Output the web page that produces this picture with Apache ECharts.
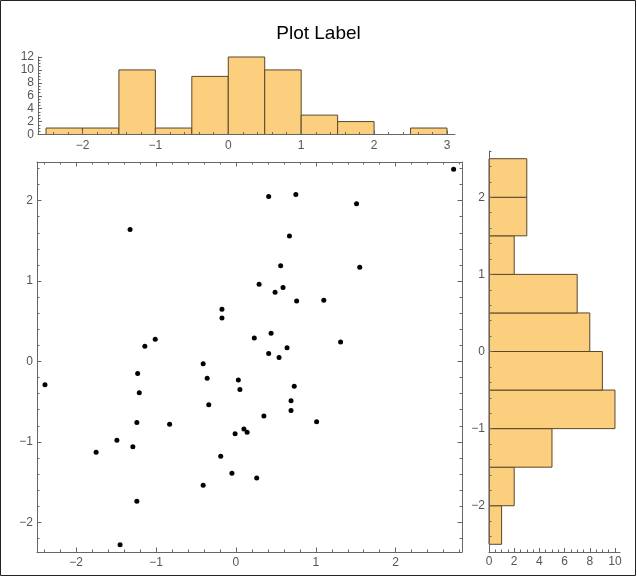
<!DOCTYPE html>
<html><head><meta charset="utf-8">
<script src="https://cdn.jsdelivr.net/npm/echarts@6/dist/echarts.min.js"></script>
<style>html,body{margin:0;padding:0;background:#fff}#c{width:637px;height:577px}</style>
</head><body><div id="c"></div>
<script>
// ---- data ----
const scatterX = [-1.325,-1.14,-1.01,-0.175,-0.175,2.725,0.41,0.75,1.51,0.67,
                  0.56,1.55,0.29,0.59,0.49,0.76,1.10,0.44,0.23,1.31,
                  0.64,0.41,0.54,-0.41,-1.23,-2.39,-0.36,0.03,0.05,-1.21,
                  -0.34,-1.24,-0.83,0.10,0.14,-0.01,-1.49,-1.29,-1.75,-0.19,
                  -0.05,-0.41,-1.24,-1.45,0.73,0.69,0.69,0.35,1.01,0.26];
const scatterY = [1.64,0.19,0.275,0.65,0.54,2.39,2.05,2.075,1.96,1.56,
                  1.19,1.17,0.96,0.92,0.86,0.75,0.76,0.35,0.29,0.24,
                  0.17,0.10,0.05,-0.03,-0.15,-0.29,-0.21,-0.23,-0.35,-0.39,
                  -0.54,-0.76,-0.78,-0.84,-0.88,-0.90,-0.98,-1.06,-1.13,-1.18,
                  -1.39,-1.54,-1.74,-2.28,-0.31,-0.49,-0.61,-0.68,-0.75,-1.45];
const topBinEdges = [-2.5,-2,-1.5,-1,-0.5,0,0.5,1,1.5,2,2.5,3];
const topCounts = [1,1,10,1,9,12,10,3,2,0,1];
const rightBinEdges = [-2.5,-2,-1.5,-1,-0.5,0,0.5,1,1.5,2,2.5];
const rightCounts = [1,2,5,10,9,8,7,2,3,3];
const scatterXTicks = [-2,-1,0,1,2];
const scatterYTicks = [-2,-1,0,1,2];
const topXTicks = [-2,-1,0,1,2,3];
const topYTicks = [0,2,4,6,8,10,12];
const rightXTicks = [0,2,4,6,8,10];
const rightYTicks = [-2,-1,0,1,2];
const titleText = 'Plot Label';

// ---- helpers ----
function minors(lo, hi, step, majors) {
  const out = []; const n = Math.round((hi - lo) / step);
  for (let i = 0; i <= n; i++) {
    const v = Math.round((lo + i * step) * 1000) / 1000;
    if (!majors.some(m => Math.abs(m - v) < 1e-9)) out.push(v);
  }
  return out;
}
const AX = '#666', LB = '#555', FONT = '"Liberation Sans", Arial, Helvetica, sans-serif';
const BAR = '#FCCF7F', EDGE = '#5a4629';
function fmt(v) { return v < 0 ? '\u2212' + Math.abs(v) : String(v); }
function axis(grid, pos, min, max, ticks, o) {
  return {
    type: 'value', gridIndex: grid, position: pos, min: min, max: max,
    axisLine: { show: !!o.line, onZero: false, lineStyle: { color: AX, width: 1 } },
    axisTick: { show: true, inside: true, length: o.len, customValues: ticks, lineStyle: { color: AX, width: 1 } },
    axisLabel: { show: !!o.labels, customValues: ticks, formatter: fmt, color: LB, fontSize: 12,
                 fontFamily: FONT, margin: o.margin || 5 },
    splitLine: { show: false }, minorTick: { show: false }, minorSplitLine: { show: false },
    axisPointer: { show: false }, silent: true, z: 5
  };
}
const SXmin = -2.49, SXmax = 2.83, SYmin = -2.37, SYmax = 2.48;
const TXmin = -2.61, TXmax = 3.11, TYmin = 0, TYmax = 12;
const RXmin = 0, RXmax = 10.4, RYmin = -2.6, RYmax = 2.6;

const xAxes = [
  axis(0, 'bottom', SXmin, SXmax, scatterXTicks, { line: true, labels: true, len: 4.5, margin: 5 }),
  axis(0, 'bottom', SXmin, SXmax, minors(-2.4, 2.8, 0.2, scatterXTicks), { len: 2.5 }),
  axis(0, 'top', SXmin, SXmax, scatterXTicks, { line: true, len: 4.5 }),
  axis(0, 'top', SXmin, SXmax, minors(-2.4, 2.8, 0.2, scatterXTicks), { len: 2.5 }),
  axis(1, 'bottom', TXmin, TXmax, topXTicks, { line: true, labels: true, len: 4, margin: 5 }),
  axis(1, 'bottom', TXmin, TXmax, minors(-2.6, 3.0, 0.2, topXTicks), { len: 2.5 }),
  axis(2, 'bottom', RXmin, RXmax, rightXTicks, { line: true, labels: true, len: 4, margin: 4 }),
  axis(2, 'bottom', RXmin, RXmax, minors(0, 10, 0.5, rightXTicks), { len: 2.5 })
];
const yAxes = [
  axis(0, 'left', SYmin, SYmax, scatterYTicks, { line: true, labels: true, len: 4.5, margin: 4 }),
  axis(0, 'left', SYmin, SYmax, minors(-2.2, 2.4, 0.2, scatterYTicks), { len: 2.5 }),
  axis(0, 'right', SYmin, SYmax, scatterYTicks, { line: true, len: 4.5 }),
  axis(0, 'right', SYmin, SYmax, minors(-2.2, 2.4, 0.2, scatterYTicks), { len: 2.5 }),
  axis(1, 'left', TYmin, TYmax, topYTicks, { line: true, labels: true, len: 4, margin: 4 }),
  axis(1, 'left', TYmin, TYmax, minors(0, 12, 0.5, topYTicks), { len: 2.5 }),
  axis(2, 'left', RYmin, RYmax, rightYTicks, { line: true, labels: true, len: 4, margin: 4 }),
  axis(2, 'left', RYmin, RYmax, minors(-2.6, 2.6, 0.2, rightYTicks), { len: 2.5 })
];

const topData = topCounts.map((c, i) => [topBinEdges[i], topBinEdges[i + 1], c]).filter(d => d[2] > 0);
const rightData = rightCounts.map((c, i) => [rightBinEdges[i], rightBinEdges[i + 1], c]).filter(d => d[2] > 0);
const scatterData = scatterX.map((x, i) => [x, scatterY[i]]);

const chart = echarts.init(document.getElementById('c'), null, { renderer: 'canvas' });
chart.setOption({
  animation: false,
  backgroundColor: '#fff',
  title: { text: titleText, left: 'center', top: 19,
           textStyle: { fontSize: 19, fontWeight: 'normal', color: '#000', fontFamily: FONT } },
  grid: [
    { left: 37, top: 162, width: 425, height: 390 },
    { left: 38, top: 57, width: 417, height: 77.5 },
    { left: 489, top: 151, width: 131, height: 401 }
  ],
  xAxis: xAxes,
  yAxis: yAxes,
  graphic: [{ type: 'rect', shape: { x: 0.5, y: 0.5, width: 635, height: 575 },
              style: { fill: null, stroke: '#222', lineWidth: 1 }, silent: true, z: 10 }],
  series: [
    { type: 'scatter', xAxisIndex: 0, yAxisIndex: 0, data: scatterData, symbolSize: 5,
      itemStyle: { color: '#000', opacity: 1 }, z: 3 },
    { type: 'custom', xAxisIndex: 4, yAxisIndex: 4, data: topData, encode: { x: [0, 1], y: 2 }, z: 2,
      renderItem: function (params, api) {
        const p0 = api.coord([api.value(0), api.value(2)]);
        const p1 = api.coord([api.value(1), 0]);
        return { type: 'rect', shape: { x: p0[0], y: p0[1], width: p1[0] - p0[0], height: p1[1] - p0[1] },
                 style: { fill: BAR, stroke: EDGE, lineWidth: 1 } };
      } },
    { type: 'custom', xAxisIndex: 6, yAxisIndex: 6, data: rightData, encode: { x: 2, y: [0, 1] }, z: 2,
      renderItem: function (params, api) {
        const p0 = api.coord([0, api.value(1)]);
        const p1 = api.coord([api.value(2), api.value(0)]);
        return { type: 'rect', shape: { x: p0[0], y: p0[1], width: p1[0] - p0[0], height: p1[1] - p0[1] },
                 style: { fill: BAR, stroke: EDGE, lineWidth: 1 } };
      } }
  ]
});
</script></body></html>
